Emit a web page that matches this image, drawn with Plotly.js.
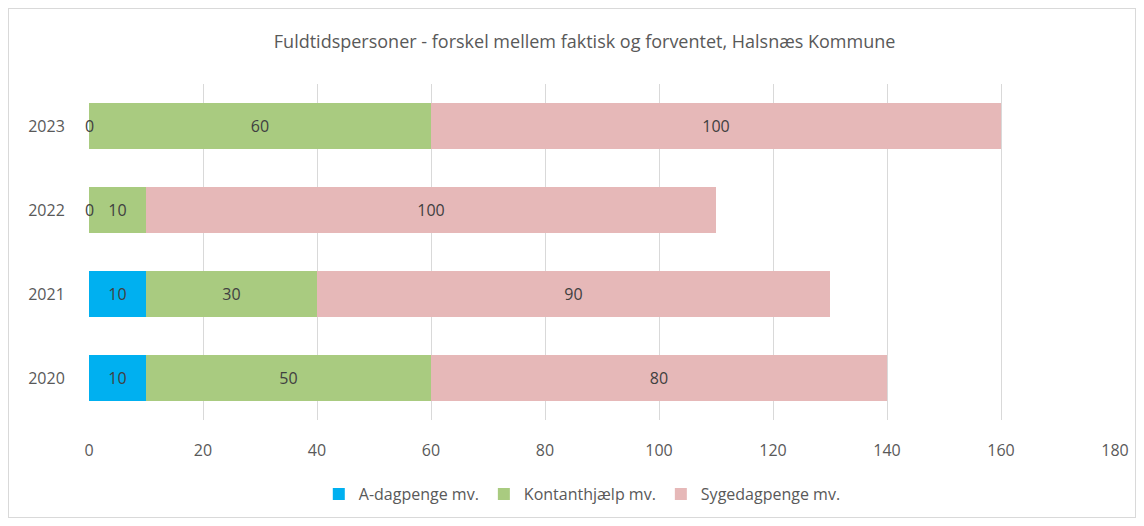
<!DOCTYPE html>
<html>
<head>
<meta charset="utf-8">
<script src="https://cdn.plot.ly/plotly-3.0.1.min.js"></script>
<style>
html,body{margin:0;padding:0;background:#fff;}
#wrap{position:relative;width:1144px;height:526px;}
#chart{width:1144px;height:526px;}
#frame{position:absolute;left:8px;top:8px;width:1128px;height:510px;border:1px solid #D9D9D9;pointer-events:none;box-sizing:border-box;}
</style>
</head>
<body>
<div id="wrap"><div id="chart"></div><div id="frame"></div></div>
<script>
const years = ['2020', '2021', '2022', '2023'];
const aDagpenge = [10, 10, 0, 0];
const kontanthjaelp = [50, 30, 10, 60];
const sygedagpenge = [80, 90, 100, 100];
const seriesNames = ['A-dagpenge mv.', 'Kontanthjælp mv.', 'Sygedagpenge mv.'];
const seriesColors = ['#00B0F0', '#A9CB80', '#E6B8B8'];
const xTicks = [0, 20, 40, 60, 80, 100, 120, 140, 160, 180];

const font = 'Open Sans, Noto Sans, sans-serif';
const txtColor = '#404040';
const allSeries = [aDagpenge, kontanthjaelp, sygedagpenge];

const traces = allSeries.map((vals, i) => ({
  type: 'bar',
  orientation: 'h',
  y: years,
  x: vals,
  name: seriesNames[i],
  marker: {color: seriesColors[i]},
  text: vals.map(v => v === 0 ? '' : String(v)),
  textposition: 'inside',
  insidetextanchor: 'middle',
  textangle: 0,
  textfont: {family: font, size: 16, color: txtColor},
  hoverinfo: 'x+name'
}));

// zero-value labels placed at the start of the bar
const annotations = [];
allSeries.forEach((vals) => {
  vals.forEach((v, j) => {
    if (v === 0) {
      annotations.push({
        x: 0, y: years[j], xref: 'x', yref: 'y', text: '0', showarrow: false,
        font: {family: font, size: 16, color: txtColor}, xanchor: 'center'
      });
    }
  });
});

const layout = {
  width: 1144, height: 526,
  margin: {l: 89, r: 29, t: 84, b: 106},
  barmode: 'stack',
  bargap: 0.45,
  paper_bgcolor: '#ffffff',
  plot_bgcolor: '#ffffff',
  font: {family: font, color: '#595959', size: 16},
  title: {
    text: 'Fuldtidspersoner - forskel mellem faktisk og forventet, Halsnæs Kommune',
    font: {family: font, size: 18, color: '#595959'},
    xref: 'container', yref: 'container', x: 0.511, y: 1 - 42/526,
    xanchor: 'center', yanchor: 'middle'
  },
  xaxis: {
    range: [0, 180],
    tickvals: xTicks,
    ticktext: xTicks.map(String),
    showgrid: true, gridcolor: '#D9D9D9', gridwidth: 1,
    zeroline: false, showline: false, ticks: 'outside', ticklen: 16, tickcolor: 'rgba(0,0,0,0)',
    tickfont: {family: font, size: 16, color: '#595959'},
    fixedrange: true
  },
  yaxis: {
    categoryorder: 'array', categoryarray: years,
    showgrid: false, zeroline: false, showline: false, ticks: 'outside', ticklen: 20, tickcolor: 'rgba(0,0,0,0)',
    tickfont: {family: font, size: 16, color: '#595959'},
    fixedrange: true
  },
  legend: {
    orientation: 'h',
    xref: 'container', yref: 'container',
    x: 0.509, y: 1 - 494/526, xanchor: 'center', yanchor: 'middle',
    font: {family: font, size: 16, color: '#595959'},
    itemwidth: 30,
    traceorder: 'normal'
  },
  annotations: annotations,
  showlegend: true
};

Plotly.newPlot('chart', traces, layout, {displayModeBar: false, staticPlot: true});
</script>
</body>
</html>
